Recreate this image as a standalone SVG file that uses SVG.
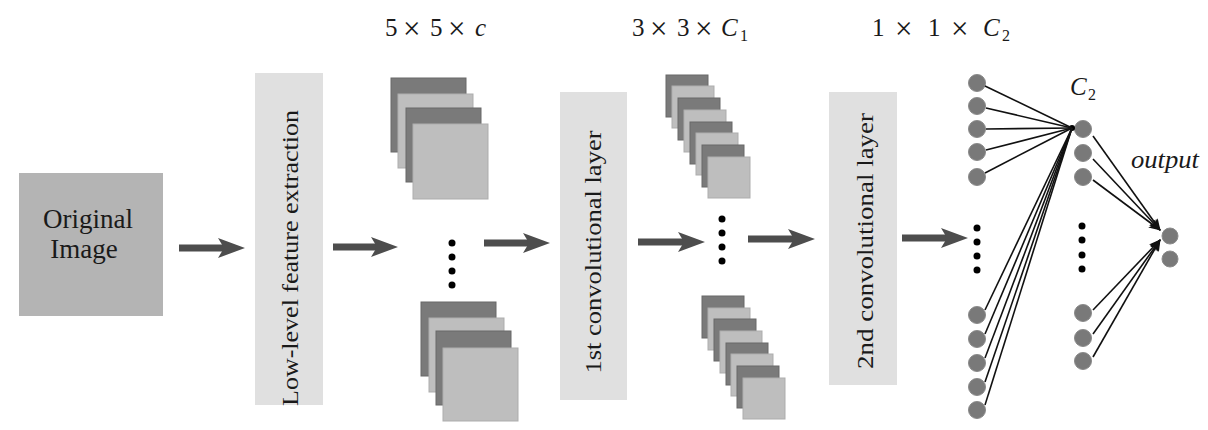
<svg xmlns="http://www.w3.org/2000/svg" width="1208" height="430" viewBox="0 0 1208 430">
<style>
text{font-family:'Liberation Serif','DejaVu Serif','Times New Roman',serif;fill:#1a1a1a}
.bar{fill:#e0e0e0}
.dk{fill:#7a7a7a;stroke:#686868;stroke-width:1}
.lt{fill:#bebebe;stroke:#adadad;stroke-width:1}
.fat{stroke:#4d4d4d;stroke-width:7;fill:none}
.nd{fill:#797979;stroke:#8a8a8a;stroke-width:1}
.dot{fill:#000}
.ln{stroke:#111;stroke-width:1.6;fill:none}
.lbl{font-size:25px}
.x{font-size:31px}
.it{font-style:italic}
.sub{font-size:16px}
</style>
<defs>
<marker id="bigHead" markerUnits="userSpaceOnUse" markerWidth="30" markerHeight="24" viewBox="0 0 30 24" refX="7" refY="12" orient="auto">
<path d="M0,2 L27,12 L0,22 L6,12 Z" fill="#4d4d4d"/>
</marker>
<marker id="thinHead" markerUnits="userSpaceOnUse" markerWidth="12" markerHeight="10" viewBox="0 0 12 10" refX="11" refY="5" orient="auto">
<path d="M0,0 L12,5 L0,10 L3,5 Z" fill="#111"/>
</marker>
</defs>

<!-- top labels -->
<g id="labels" font-family="Liberation Serif, serif">
<text class="lbl" x="385" y="36">5</text><text class="x" x="403" y="39">×</text><text class="lbl" x="430" y="36">5</text><text class="x" x="448" y="39">×</text><text class="lbl it" x="475" y="36">c</text>
<text class="lbl" x="632" y="36">3</text><text class="x" x="650" y="39">×</text><text class="lbl" x="677" y="36">3</text><text class="x" x="695" y="39">×</text><text class="lbl it" x="721" y="36">C</text><text class="sub" x="740" y="41">1</text>
<text class="lbl" x="872" y="36">1</text><text class="x" x="895" y="39">×</text><text class="lbl" x="928" y="36">1</text><text class="x" x="951" y="39">×</text><text class="lbl it" x="983" y="36">C</text><text class="sub" x="1002" y="41">2</text>
</g>

<g id="original-image">
<rect x="19" y="173" width="144" height="143" fill="#b4b4b4"/>
<text font-family="Liberation Serif, serif" font-size="27" x="88" y="228" text-anchor="middle">Original</text>
<text font-family="Liberation Serif, serif" font-size="27" x="84" y="258" text-anchor="middle">Image</text>
</g>

<g id="low-level">
<rect class="bar" x="255" y="73" width="68" height="332"/>
<text font-family="Liberation Serif, serif" font-size="23" transform="translate(298,258) rotate(-90)" text-anchor="middle" textLength="296" lengthAdjust="spacingAndGlyphs">Low-level feature extraction</text>
</g>

<g id="stack-5x5-top">
<rect class="dk" x="391" y="78" width="75" height="74"/>
<rect class="lt" x="398" y="94" width="75" height="74"/>
<rect class="dk" x="406" y="108" width="75" height="74"/>
<rect class="lt" x="413" y="124" width="75" height="75"/>
</g>
<g id="stack-5x5-dots">
<circle class="dot" cx="452" cy="243" r="3.5"/>
<circle class="dot" cx="452" cy="257" r="3.5"/>
<circle class="dot" cx="452" cy="271" r="3.5"/>
<circle class="dot" cx="452" cy="285" r="3.5"/>
</g>
<g id="stack-5x5-bottom">
<rect class="dk" x="421" y="302" width="75" height="74"/>
<rect class="lt" x="429" y="318" width="75" height="74"/>
<rect class="dk" x="436" y="331" width="75" height="74"/>
<rect class="lt" x="443" y="348" width="75" height="73"/>
</g>

<g id="conv1">
<rect class="bar" x="560" y="92" width="67" height="308"/>
<text font-family="Liberation Serif, serif" font-size="23" transform="translate(601,252) rotate(-90)" text-anchor="middle" textLength="243" lengthAdjust="spacingAndGlyphs">1st convolutional layer</text>
</g>

<g id="stack-3x3-top">
<rect class="dk" x="666" y="75" width="42" height="42"/>
<rect class="lt" x="672" y="86" width="42" height="42"/>
<rect class="dk" x="678" y="98" width="42" height="42"/>
<rect class="lt" x="684" y="110" width="42" height="42"/>
<rect class="dk" x="690" y="122" width="42" height="42"/>
<rect class="lt" x="696" y="133" width="42" height="42"/>
<rect class="dk" x="702" y="145" width="42" height="42"/>
<rect class="lt" x="708" y="157" width="42" height="41"/>
</g>
<g id="stack-3x3-dots">
<circle class="dot" cx="722" cy="219" r="3.5"/>
<circle class="dot" cx="722" cy="233" r="3.5"/>
<circle class="dot" cx="722" cy="247" r="3.5"/>
<circle class="dot" cx="722" cy="261" r="3.5"/>
</g>
<g id="stack-3x3-bottom">
<rect class="dk" x="702" y="296" width="42" height="42"/>
<rect class="lt" x="708" y="308" width="42" height="42"/>
<rect class="dk" x="714" y="319" width="42" height="42"/>
<rect class="lt" x="720" y="331" width="42" height="42"/>
<rect class="dk" x="726" y="343" width="42" height="42"/>
<rect class="lt" x="731" y="354" width="42" height="42"/>
<rect class="dk" x="737" y="366" width="42" height="42"/>
<rect class="lt" x="743" y="378" width="42" height="41"/>
</g>

<g id="conv2">
<rect class="bar" x="829" y="92" width="68" height="293"/>
<text font-family="Liberation Serif, serif" font-size="23" transform="translate(873,241) rotate(-90)" text-anchor="middle" textLength="256" lengthAdjust="spacingAndGlyphs">2nd convolutional layer</text>
</g>

<g id="fc-input">
<circle class="nd" cx="977" cy="83" r="8.5"/>
<circle class="nd" cx="977" cy="106" r="8.5"/>
<circle class="nd" cx="977" cy="129" r="8.5"/>
<circle class="nd" cx="977" cy="152" r="8.5"/>
<circle class="nd" cx="977" cy="177" r="8.5"/>
<circle class="dot" cx="977" cy="228" r="3.5"/>
<circle class="dot" cx="977" cy="242" r="3.5"/>
<circle class="dot" cx="977" cy="256" r="3.5"/>
<circle class="dot" cx="977" cy="270" r="3.5"/>
<circle class="nd" cx="977" cy="315" r="8.5"/>
<circle class="nd" cx="977" cy="339" r="8.5"/>
<circle class="nd" cx="977" cy="363" r="8.5"/>
<circle class="nd" cx="977" cy="387" r="8.5"/>
<circle class="nd" cx="977" cy="410" r="8.5"/>
</g>

<g id="fc-c2">
<text class="lbl it" x="1070" y="95">C</text><text class="sub" x="1088" y="100">2</text>
<circle class="nd" cx="1083" cy="129" r="8.5"/>
<circle class="nd" cx="1083" cy="153" r="8.5"/>
<circle class="nd" cx="1083" cy="177" r="8.5"/>
<circle class="dot" cx="1082" cy="226" r="3.5"/>
<circle class="dot" cx="1082" cy="240" r="3.5"/>
<circle class="dot" cx="1082" cy="255" r="3.5"/>
<circle class="dot" cx="1082" cy="269" r="3.5"/>
<circle class="nd" cx="1083" cy="313" r="8.5"/>
<circle class="nd" cx="1083" cy="338" r="8.5"/>
<circle class="nd" cx="1083" cy="361" r="8.5"/>
</g>

<g id="fc-output">
<text font-family="Liberation Serif, serif" font-size="25" font-style="italic" x="1131" y="168" textLength="68" lengthAdjust="spacingAndGlyphs">output</text>
<circle class="nd" cx="1170" cy="236" r="8"/>
<circle class="nd" cx="1170" cy="259" r="8"/>
</g>

<g id="connectors">
<line class="fat" x1="179" y1="248" x2="225" y2="248" marker-end="url(#bigHead)"/>
<line class="fat" x1="333" y1="247" x2="378" y2="247" marker-end="url(#bigHead)"/>
<line class="fat" x1="484" y1="243" x2="530" y2="243" marker-end="url(#bigHead)"/>
<line class="fat" x1="638" y1="242" x2="685" y2="242" marker-end="url(#bigHead)"/>
<line class="fat" x1="748" y1="239" x2="795" y2="239" marker-end="url(#bigHead)"/>
<line class="fat" x1="902" y1="238" x2="948" y2="238" marker-end="url(#bigHead)"/>

<circle class="dot" cx="1072" cy="128" r="3"/>
<line class="ln" x1="985" y1="86" x2="1072" y2="128"/>
<line class="ln" x1="986" y1="108" x2="1072" y2="128"/>
<line class="ln" x1="986" y1="129" x2="1072" y2="128"/>
<line class="ln" x1="986" y1="150" x2="1072" y2="128"/>
<line class="ln" x1="985" y1="173" x2="1072" y2="128"/>
<line class="ln" x1="985" y1="310" x2="1072" y2="128"/>
<line class="ln" x1="985" y1="334" x2="1072" y2="128"/>
<line class="ln" x1="985" y1="358" x2="1072" y2="128"/>
<line class="ln" x1="985" y1="382" x2="1072" y2="128"/>
<line class="ln" x1="985" y1="405" x2="1072" y2="128"/>

<line class="ln" x1="1093" y1="136" x2="1160" y2="230" marker-end="url(#thinHead)"/>
<line class="ln" x1="1093" y1="159" x2="1160" y2="230" marker-end="url(#thinHead)"/>
<line class="ln" x1="1093" y1="180" x2="1160" y2="230" marker-end="url(#thinHead)"/>
<line class="ln" x1="1093" y1="310" x2="1160" y2="240" marker-end="url(#thinHead)"/>
<line class="ln" x1="1093" y1="334" x2="1160" y2="240" marker-end="url(#thinHead)"/>
<line class="ln" x1="1093" y1="357" x2="1160" y2="240" marker-end="url(#thinHead)"/>
</g>
</svg>
